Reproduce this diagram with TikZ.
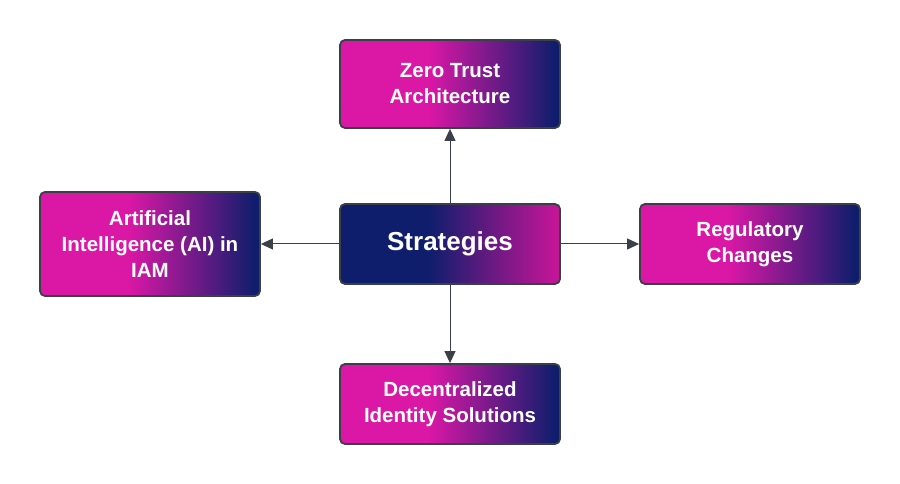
\documentclass[tikz,border=0pt]{standalone}
\usepackage{fontspec}
\setmainfont{Liberation Sans}
\usetikzlibrary{arrows.meta}
\definecolor{mag}{HTML}{DB17A6}
\definecolor{navy}{HTML}{0E1E6C}
\definecolor{edge}{HTML}{3A3F48}
\pgfdeclarehorizontalshading{magnavy}{100bp}{color(0bp)=(mag); color(45bp)=(mag); color(74bp)=(navy); color(100bp)=(navy)}
\pgfdeclarehorizontalshading{navymag}{100bp}{color(0bp)=(navy); color(45bp)=(navy); color(75bp)=(mag!92!black); color(100bp)=(mag!92!black)}
\tikzset{
  box/.style={draw=edge, line width=1.8pt, rounded corners=5pt, minimum width=220pt, inner sep=0pt, align=center, text=white, font=\bfseries\fontsize{20.5}{26}\selectfont, shade, shading=magnavy},
  conn/.style={draw=edge, line width=1pt, -{Triangle[length=12pt,width=11pt]}}
}
\begin{document}
\begin{tikzpicture}[x=1pt,y=1pt]
\useasboundingbox (0,0) rectangle (900,484);
\node[box, minimum height=88pt] (zt) at (450,400) {Zero Trust\\Architecture};
\node[box, minimum height=104pt] (ai) at (150,240) {Artificial\\Intelligence (AI) in\\IAM};
\node[box, minimum height=80pt, shading=navymag, font=\bfseries\fontsize{26}{30}\selectfont] (st) at (450,240) {Strategies};
\node[box, minimum height=80pt] (rc) at (750,240) {Regulatory\\Changes};
\node[box, minimum height=80pt] (di) at (450,80) {Decentralized\\Identity Solutions};
\draw[conn] (st.north) -- (zt.south);
\draw[conn] (st.west) -- (ai.east);
\draw[conn] (st.east) -- (rc.west);
\draw[conn] (st.south) -- (di.north);
\end{tikzpicture}
\end{document}
